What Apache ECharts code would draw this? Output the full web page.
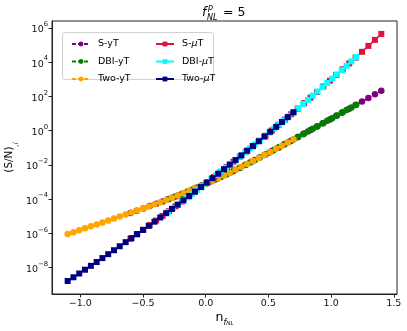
<!DOCTYPE html>
<html><head><meta charset="utf-8">
<script src="https://cdn.jsdelivr.net/npm/echarts@6/dist/echarts.min.js"></script>
<style>html,body{margin:0;padding:0;background:#fff}#c{width:407px;height:331px}</style>
</head><body><div id="c"></div>
<script>
// x grids (n_fNL) for each model
const xS = [-0.600,-0.549,-0.497,-0.446,-0.395,-0.344,-0.292,-0.241,-0.190,-0.138,-0.087,-0.036,0.015,0.067,0.118,0.169,0.221,0.272,0.323,0.374,0.426,0.477,0.528,0.579,0.631,0.682,0.733,0.785,0.836,0.887,0.938,0.990,1.041,1.092,1.144,1.195,1.246,1.297,1.349,1.400];
const xDBI = [-0.300,-0.262,-0.223,-0.185,-0.146,-0.108,-0.069,-0.031,0.008,0.046,0.085,0.123,0.162,0.200,0.238,0.277,0.315,0.354,0.392,0.431,0.469,0.508,0.546,0.585,0.623,0.662,0.700,0.738,0.777,0.815,0.854,0.892,0.931,0.969,1.008,1.046,1.085,1.123,1.162,1.200];
const xTwo = [-1.100,-1.054,-1.008,-0.962,-0.915,-0.869,-0.823,-0.777,-0.731,-0.685,-0.638,-0.592,-0.546,-0.500,-0.454,-0.408,-0.362,-0.315,-0.269,-0.223,-0.177,-0.131,-0.085,-0.038,0.008,0.054,0.100,0.146,0.192,0.238,0.285,0.331,0.377,0.423,0.469,0.515,0.562,0.608,0.654,0.700];

// log10 (S/N)
const yT_S = [-4.810,-4.680,-4.545,-4.410,-4.274,-4.136,-3.991,-3.845,-3.697,-3.542,-3.386,-3.224,-3.058,-2.887,-2.714,-2.536,-2.352,-2.166,-1.978,-1.787,-1.588,-1.392,-1.193,-0.993,-0.788,-0.585,-0.381,-0.171,0.034,0.241,0.447,0.658,0.865,1.073,1.285,1.494,1.702,1.911,2.123,2.332];
const yT_DBI = [-4.013,-3.906,-3.794,-3.682,-3.566,-3.450,-3.329,-3.208,-3.082,-2.957,-2.827,-2.697,-2.561,-2.427,-2.290,-2.148,-2.007,-1.862,-1.718,-1.569,-1.423,-1.271,-1.123,-0.969,-0.820,-0.665,-0.513,-0.360,-0.204,-0.051,0.106,0.260,0.418,0.573,0.731,0.886,1.045,1.200,1.359,1.514];
const yT_Two = [-6.044,-5.933,-5.821,-5.709,-5.594,-5.482,-5.368,-5.255,-5.140,-5.025,-4.907,-4.790,-4.672,-4.553,-4.432,-4.309,-4.185,-4.055,-3.926,-3.794,-3.659,-3.521,-3.380,-3.230,-3.082,-2.931,-2.776,-2.617,-2.455,-2.290,-2.117,-1.948,-1.775,-1.600,-1.423,-1.244,-1.060,-0.878,-0.696,-0.513];
const muT_S = [-6.325,-6.062,-5.791,-5.524,-5.254,-4.982,-4.702,-4.425,-4.147,-3.860,-3.577,-3.290,-3.003,-2.707,-2.415,-2.121,-1.818,-1.520,-1.219,-0.916,-0.604,-0.297,0.013,0.325,0.646,0.962,1.281,1.608,1.931,2.258,2.585,2.922,3.253,3.588,3.931,4.269,4.610,4.953,5.306,5.653];
const muT_DBI = [-4.745,-4.539,-4.327,-4.118,-3.904,-3.693,-3.476,-3.263,-3.043,-2.827,-2.605,-2.387,-2.162,-1.941,-1.719,-1.490,-1.266,-1.035,-0.808,-0.574,-0.345,-0.109,0.123,0.362,0.597,0.838,1.075,1.313,1.558,1.799,2.046,2.289,2.540,2.785,3.038,3.286,3.541,3.792,4.049,4.303];
const muT_Two = [-8.790,-8.572,-8.352,-8.131,-7.903,-7.678,-7.451,-7.222,-6.991,-6.759,-6.520,-6.284,-6.047,-5.807,-5.566,-5.322,-5.077,-4.826,-4.577,-4.327,-4.075,-3.821,-3.565,-3.302,-3.043,-2.782,-2.519,-2.254,-1.987,-1.719,-1.444,-1.172,-0.898,-0.622,-0.345,-0.066,0.221,0.504,0.788,1.075];

const seriesNames = ['S-yT','DBI-yT','Two-yT','S-μT','DBI-μT','Two-μT'];
const seriesColors = ['#800080','#008000','#FFA500','#DC143C','#00FFFF','#000080'];
const xTicks = [-1.0,-0.5,0.0,0.5,1.0,1.5];
const yTickExps = [-8,-6,-4,-2,0,2,4,6];

const FONT = 'DejaVu Sans';
const xs = [xS, xDBI, xTwo, xS, xDBI, xTwo];
const ys = [yT_S, yT_DBI, yT_Two, muT_S, muT_DBI, muT_Two];

const series = seriesNames.map((name, k) => {
  const yTser = k < 3;
  return {
    name, type: 'line',
    data: xs[k].map((x, i) => [x, Math.pow(10, ys[k][i])]),
    symbol: yTser ? 'circle' : 'rect',
    symbolSize: yTser ? 6.5 : 6,
    lineStyle: { color: seriesColors[k], width: 1.5, type: yTser ? [4, 2] : 'solid' },
    itemStyle: { color: seriesColors[k], borderWidth: 0 },
    emphasis: { disabled: true },
    z: 2 + k
  };
});

const chart = echarts.init(document.getElementById('c'), null, { renderer: 'canvas' });
const legendCommon = {
  orient: 'vertical', top: 34, itemWidth: 18, itemHeight: 6, itemGap: 7.5,
  textStyle: { fontFamily: FONT, fontSize: 9.5, color: '#000', padding: [0, 0, 0, 3],
    rich: { i: { fontFamily: FONT, fontStyle: 'italic', fontSize: 9.5, color: '#000' } } },
  formatter: n => n.replace('μ', '{i|μ}'),
  selectedMode: false
};

chart.setOption({
  animation: false,
  backgroundColor: '#fff',
  grid: { left: 52, right: 10, top: 21, bottom: 37, containLabel: false, outerBoundsMode: 'none',
    show: true, borderColor: '#222', borderWidth: 1, backgroundColor: 'transparent' },
  legend: [
    Object.assign({}, legendCommon, { left: 66, data: seriesNames.slice(0, 3) }),
    Object.assign({}, legendCommon, { left: 150, data: seriesNames.slice(3) })
  ],
  graphic: [
    { type: 'rect', left: 62, top: 32, z: 0, shape: { width: 151, height: 47, r: 3 }, style: { fill: 'rgba(255,255,255,0.8)', stroke: '#d0d0d0', lineWidth: 1 } },
    { type: 'text', x: 202, y: 13, style: { text: 'f', font: 'italic 12.5px ' + FONT, fill: '#000', textVerticalAlign: 'middle' } },
    { type: 'text', x: 208, y: 8, style: { text: 'p', font: 'italic 8px ' + FONT, fill: '#000', textVerticalAlign: 'middle' } },
    { type: 'text', x: 207, y: 17.5, style: { text: 'NL', font: 'italic 8px ' + FONT, fill: '#000', textVerticalAlign: 'middle' } },
    { type: 'text', x: 223, y: 13, style: { text: '= 5', font: '12.5px ' + FONT, fill: '#000', textVerticalAlign: 'middle' } }
  ],
  xAxis: {
    type: 'value', min: -1.225, max: 1.525,
    axisLine: { show: true, onZero: false, lineStyle: { color: '#222', width: 1 } },
    axisTick: { show: true, length: 3.5, lineStyle: { color: '#222' }, customValues: xTicks },
    axisLabel: { customValues: xTicks, fontFamily: FONT, fontSize: 9.5, color: '#111', margin: 5,
      formatter: v => (v < 0 ? '−' : '') + Math.abs(v).toFixed(1) },
    splitLine: { show: false },
    name: '{n|n}{f|f}{s|NL}', nameLocation: 'middle', nameGap: 17, nameMoveOverlap: false,
    nameTextStyle: { rich: {
      n: { fontFamily: FONT, fontSize: 12.5, color: '#000', lineHeight: 16, verticalAlign: 'top' },
      f: { fontFamily: FONT, fontStyle: 'italic', fontSize: 8, color: '#000', lineHeight: 16, verticalAlign: 'bottom' },
      s: { fontFamily: FONT, fontStyle: 'italic', fontSize: 5.5, color: '#000', lineHeight: 14, verticalAlign: 'bottom' }
    } }
  },
  yAxis: {
    type: 'log', logBase: 10, min: Math.pow(10, -9.55), max: Math.pow(10, 6.41),
    axisLine: { show: true, onZero: false, lineStyle: { color: '#222', width: 1 } },
    axisTick: { show: true, length: 3.5, lineStyle: { color: '#222' }, customValues: yTickExps.map(e => Math.pow(10, e)) },
    axisLabel: { customValues: yTickExps.map(e => Math.pow(10, e)), margin: 4,
      formatter: v => { const e = Math.round(Math.log10(v)); return '{b|10}{e|' + (e < 0 ? '−' : '') + Math.abs(e) + '}'; },
      rich: {
        b: { fontFamily: FONT, fontSize: 9.5, color: '#111', lineHeight: 14, verticalAlign: 'bottom' },
        e: { fontFamily: FONT, fontSize: 6.8, color: '#111', lineHeight: 14, verticalAlign: 'top' }
      } },
    splitLine: { show: false }, minorTick: { show: false },
    name: '{m|(S/N)}{s|,i}', nameLocation: 'middle', nameGap: 32, nameRotate: 90, nameMoveOverlap: false,
    nameTextStyle: { rich: {
      m: { fontFamily: FONT, fontSize: 10.5, color: '#000', lineHeight: 16, verticalAlign: 'top' },
      s: { fontFamily: FONT, fontSize: 7, fontStyle: 'italic', color: '#000', lineHeight: 16, verticalAlign: 'bottom' }
    } }
  },
  series
});
</script></body></html>
